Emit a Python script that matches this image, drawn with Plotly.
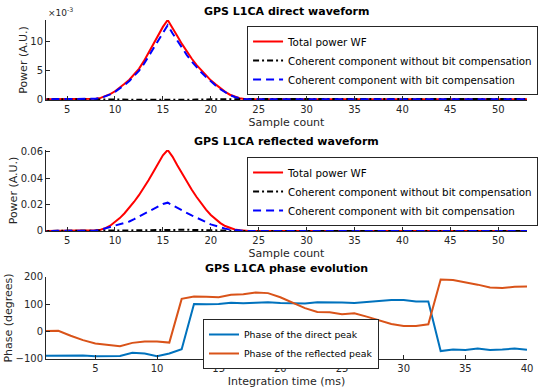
import plotly.graph_objects as go

# ---------------- data ----------------
samples = [2, 3, 4, 5, 6, 7,
           7.5, 8, 8.5, 9, 9.5, 10, 10.5, 11, 11.5, 12, 12.5, 13, 13.5, 14, 14.5, 15, 15.5,
           16, 16.5, 17, 17.5, 18, 18.5, 19, 19.5, 20, 20.5, 21, 21.5, 22, 22.5, 23, 23.5, 24,
           25, 26, 27, 28, 29, 30, 31, 32, 33, 34, 35, 36, 37, 38, 39, 40, 41, 42, 43, 44, 45,
           46, 47, 48, 49, 50, 51, 52, 53]

tail_left = [0, 0, 0, 0, 0, 0]
tail_right = [0] * 29

# direct waveform (x 1e-3)
direct_total_e3 = tail_left + [0.02, 0.1, 0.25, 0.55, 0.9, 1.4, 2.0, 2.7, 3.4, 4.3, 5.3, 6.6, 8.1, 9.5, 11.0, 12.6, 13.8,
                               12.3, 11.0, 9.6, 8.3, 7.1, 6.0, 5.1, 4.2, 3.3, 2.6, 1.9, 1.3, 0.8, 0.45, 0.2, 0.05, 0] + tail_right
direct_nocomp_e3 = [0.05] * 6 + [0.05, 0.05, 0.05, 0.05, 0.03, 0.0, -0.01, -0.03, -0.05, -0.06, -0.07, -0.08, -0.09, -0.1,
                                 -0.11, -0.12, -0.12, -0.12, -0.11, -0.1, -0.08, -0.06, -0.04, -0.02, 0.0, 0.02, 0.04, 0.05,
                                 0.06, 0.07, 0.07, 0.07, 0.06, 0.06] + [0.05] * 29
direct_comp_e3 = tail_left + [0.02, 0.1, 0.23, 0.5, 0.85, 1.3, 1.85, 2.5, 3.2, 4.0, 4.95, 6.1, 7.5, 8.8, 10.2, 11.7, 12.9,
                              11.5, 10.2, 8.9, 7.7, 6.6, 5.6, 4.7, 3.9, 3.1, 2.4, 1.75, 1.2, 0.75, 0.4, 0.18, 0.05, 0] + tail_right

# reflected waveform
refl_total = tail_left + [0.0002, 0.0005, 0.001, 0.0022, 0.004, 0.0066, 0.0098, 0.0135, 0.0175, 0.0222, 0.0272, 0.0325,
                          0.0385, 0.0448, 0.0515, 0.0575, 0.0615, 0.0565, 0.05, 0.0435, 0.0375, 0.0315, 0.026, 0.0208,
                          0.0162, 0.0122, 0.0088, 0.006, 0.0038, 0.0022, 0.0011, 0.0005, 0.0002, 0] + tail_right
refl_nocomp = tail_left + [0, 0, 0, 0, 0, 0.0001, 0.0001, 0.0002, 0.0003, 0.0004, 0.0005, 0.0006, 0.0007, 0.0008, 0.0009,
                           0.001, 0.001, 0.001, 0.001, 0.0009, 0.0009, 0.0008, 0.0007, 0.0006, 0.0005, 0.0004, 0.0003,
                           0.0002, 0.0002, 0.0001, 0.0001, 0, 0, 0] + tail_right
refl_comp = tail_left + [0, 0.0003, 0.001, 0.002, 0.0028, 0.004, 0.0053, 0.0063, 0.0072, 0.009, 0.011, 0.013, 0.015,
                         0.017, 0.019, 0.0205, 0.0215, 0.0195, 0.0175, 0.0155, 0.0135, 0.0118, 0.0102, 0.0087, 0.0068,
                         0.005, 0.0038, 0.0028, 0.0018, 0.001, 0.0005, 0.0002, 0, 0] + tail_right

# phase evolution
time_ms = list(range(1, 41))
phase_direct = [-88, -88, -86, -87, -90, -90, -89, -77, -80, -90, -80, -64, 101, 100, 101, 106, 104, 106, 108, 105,
                103, 103, 108, 108, 107, 105, 109, 112, 116, 116, 110, 110, -71, -65, -67, -62, -67, -65, -62, -66]
phase_reflected = [2, 3, -15, -31, -43, -48, -53, -41, -36, -36, -40, 120, 129, 128, 126, 135, 137, 143, 141, 126,
                   105, 86, 72, 71, 64, 67, 55, 41, 28, 21, 21, 27, 191, 189, 181, 172, 162, 160, 164, 165]

# ---------------- figure ----------------
FONT = "DejaVu Sans"
AX = "#262626"

direct_total = [v * 1e-3 for v in direct_total_e3]
direct_nocomp = [v * 1e-3 for v in direct_nocomp_e3]
direct_comp = [v * 1e-3 for v in direct_comp_e3]

names = ["Total power WF", "Coherent component without bit compensation", "Coherent component with bit compensation"]
styles = [dict(color="#FF0000", width=2, dash="solid"),
          dict(color="#000000", width=2, dash="6px,3px,2px,3px"),
          dict(color="#0000FF", width=2, dash="8px,5px")]

fig = go.Figure()
for ys, nm, st in zip([direct_total, direct_nocomp, direct_comp], names, styles):
    fig.add_trace(go.Scatter(x=samples, y=ys, mode="lines", name=nm, line=st,
                             xaxis="x", yaxis="y", legend="legend"))
for ys, nm, st in zip([refl_total, refl_nocomp, refl_comp], names, styles):
    fig.add_trace(go.Scatter(x=samples, y=ys, mode="lines", name=nm, line=st,
                             xaxis="x2", yaxis="y2", legend="legend2"))
fig.add_trace(go.Scatter(x=time_ms, y=phase_direct, mode="lines", name="Phase of the direct peak",
                         line=dict(color="#0072BD", width=2), xaxis="x3", yaxis="y3", legend="legend3"))
fig.add_trace(go.Scatter(x=time_ms, y=phase_reflected, mode="lines", name="Phase of the reflected peak",
                         line=dict(color="#D95319", width=2), xaxis="x3", yaxis="y3", legend="legend3"))

axis_common = dict(showline=True, linecolor=AX, linewidth=1, ticks="inside", ticklen=4, tickcolor=AX,
                   showgrid=False, zeroline=False, tickfont=dict(family=FONT, size=10, color=AX))
title_font = dict(family=FONT, size=11, color=AX)

legend_common = dict(bgcolor="white", bordercolor=AX, borderwidth=1, xanchor="left", yanchor="top",
                     font=dict(family=FONT, size=10.3, color="black"), tracegroupgap=0)

fig.update_layout(
    width=550, height=392,
    margin=dict(l=46, r=23, t=20, b=33, autoexpand=False),
    paper_bgcolor="white", plot_bgcolor="white",
    font=dict(family=FONT, color=AX),
    xaxis=dict(axis_common, domain=[0, 1], anchor="y", range=[2.8, 53.0], tickvals=[5, 10, 15, 20, 25, 30, 35, 40, 45, 50],
               title=dict(text="Sample count", font=title_font, standoff=4)),
    yaxis=dict(axis_common, domain=[0.764, 1.0], anchor="x", range=[-0.00012, 0.0138],
               tickvals=[0, 0.005, 0.01], ticktext=["0", "5", "10"],
               title=dict(text="Power (A.U.)", font=title_font, standoff=0)),
    xaxis2=dict(axis_common, domain=[0, 1], anchor="y2", range=[2.8, 53.0], tickvals=[5, 10, 15, 20, 25, 30, 35, 40, 45, 50],
                title=dict(text="Sample count", font=title_font, standoff=4)),
    yaxis2=dict(axis_common, domain=[0.3776, 0.6165], anchor="x2", range=[0, 0.0615],
                tickvals=[0, 0.02, 0.04, 0.06], ticktext=["0", "0.02", "0.04", "0.06"],
                title=dict(text="Power (A.U.)", font=title_font, standoff=0)),
    xaxis3=dict(axis_common, domain=[0, 1], anchor="y3", range=[1, 40], tickvals=[5, 10, 15, 20, 25, 30, 35, 40],
                title=dict(text="Integration time (ms)", font=title_font, standoff=4)),
    yaxis3=dict(axis_common, domain=[0, 0.2419], anchor="x3", range=[-100, 200],
                tickvals=[-100, 0, 100, 200],
                title=dict(text="Phase (degrees)", font=title_font, standoff=0)),
    legend=dict(legend_common, x=0.418, y=0.9823),
    legend2=dict(legend_common, x=0.418, y=0.5959),
    legend3=dict(legend_common, x=0.3264, y=0.118, font=dict(family=FONT, size=9.3, color="black")),
    showlegend=True,
)

titles = [("GPS L1CA direct waveform", 1.0265), ("GPS L1CA reflected waveform", 0.643),
          ("GPS L1CA phase evolution", 0.2655)]
for txt, yy in titles:
    fig.add_annotation(text="<b>" + txt + "</b>", xref="paper", yref="paper", x=0.5, y=yy,
                       xanchor="center", yanchor="middle", showarrow=False,
                       font=dict(family=FONT, size=11, color="black"))
fig.add_annotation(text="×10<sup>-3</sup>", xref="paper", yref="paper", x=0.0, y=1.0236,
                   xanchor="left", yanchor="middle", showarrow=False,
                   font=dict(family=FONT, size=9, color=AX))

fig.write_html("out.html", config={"displayModeBar": False},
               post_script="document.body.style.margin='0';")
